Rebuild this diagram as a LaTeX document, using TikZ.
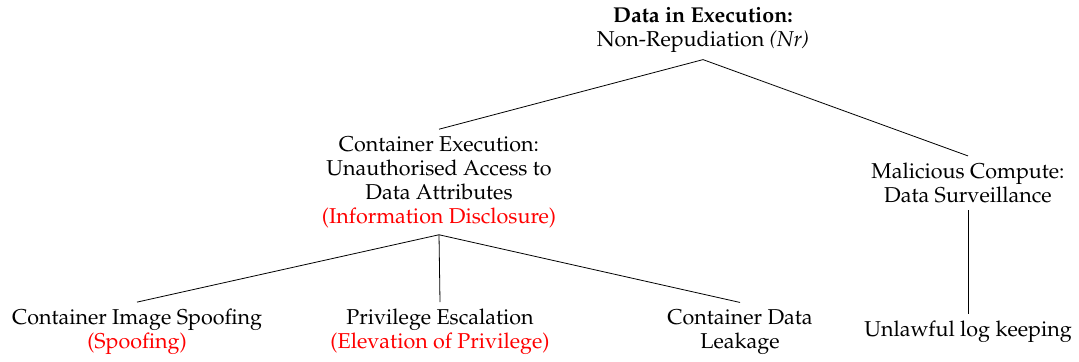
\documentclass[tikz,border=0pt]{standalone}
\usepackage[T1]{fontenc}
\usepackage{mathpazo}
\begin{document}
\begin{tikzpicture}[x=0.5pt,y=-0.5pt,
  tn/.style={align=center,font=\fontsize{10.75}{12}\selectfont},
  edge/.style={draw=black,line width=0.4pt}]
\useasboundingbox (0,0) rectangle (1079,362);
\node[tn] (root) at (703,30) {\textbf{Data in Execution:}\\Non-Repudiation \textit{(Nr)}};
\node[tn] (ce) at (439,182) {Container Execution:\\Unauthorised Access to\\Data Attributes\\\textcolor{red}{(Information Disclosure)}};
\node[tn] (mc) at (968,183) {Malicious Compute:\\Data Surveillance};
\node[tn] (cis) at (137,332) {Container Image Spoofing\\\textcolor{red}{(Spoofing)}};
\node[tn] (pe) at (440,332) {Privilege Escalation\\\textcolor{red}{(Elevation of Privilege)}};
\node[tn] (cdl) at (740,332) {Container Data\\Leakage};
\node[tn] (ulk) at (968,332) {Unlawful log keeping};
\draw[edge] (root.south) -- (ce.north);
\draw[edge] (root.south) -- (mc.north);
\draw[edge] (ce.south) -- (cis.north);
\draw[edge] (ce.south) -- (pe.north);
\draw[edge] (ce.south) -- (cdl.north);
\draw[edge] (mc.south) -- (ulk.north);
\end{tikzpicture}
\end{document}
